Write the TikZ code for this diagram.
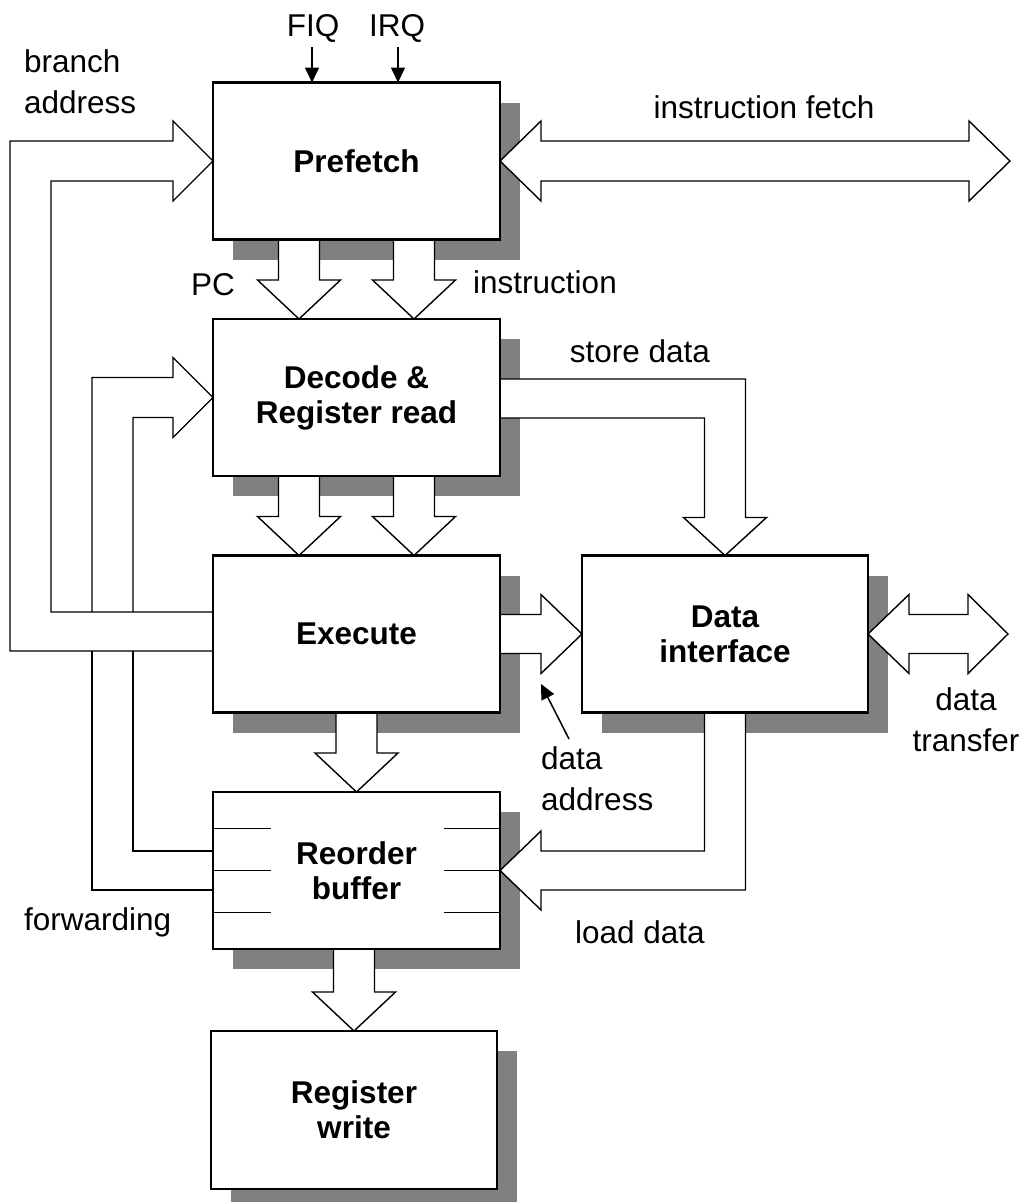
\documentclass[tikz,border=0pt]{standalone}
\usepackage{fontspec}
\setmainfont{Liberation Sans}
\usetikzlibrary{calc,arrows.meta}
\pgfdeclarelayer{shad}
\pgfdeclarelayer{arr}
\pgfsetlayers{shad,arr,main}
\definecolor{shadowgray}{RGB}{128,128,128}
\newcommand\fatdown[2]{\draw[fat] ($(#1)+(-20.5,0)$) -- ($(#2)+(-20.5,-39)$) -- ($(#2)+(-41.5,-39)$) -- (#2) -- ($(#2)+(41.5,-39)$) -- ($(#2)+(20.5,-39)$) -- ($(#1)+(20.5,0)$);}
\tikzset{
 blk/.style={draw, line width=2.6pt, fill=white, minimum width=287pt, minimum height=157pt,
   inner sep=0pt, outer sep=0pt, align=center, font=\fontsize{31.5}{35}\selectfont\bfseries},
 fat/.style={draw, line width=1.4pt, fill=white, line join=miter},
 fline/.style={draw, line width=1.4pt},
 lbl/.style={inner sep=0pt, font=\fontsize{31.5}{41}\selectfont},
 sarrow/.style={line width=1.5pt, -{Triangle[length=15pt,width=14pt]}},
 tickline/.style={line width=1.4pt},
}
\begin{document}
\begin{tikzpicture}[x=1pt,y=-1pt]
\useasboundingbox (0,0) rectangle (1021,1202);
% boxes
\node[blk] (pf) at (356.5,161) {Prefetch};
\node[blk] (dec) at (356.5,397.5) {Decode \&\\Register read};
\node[blk] (exe) at (356.5,634) {Execute};
\node[blk, minimum width=286pt] (di) at (725,634) {Data\\interface};
\node[blk] (rob) at (356.5,870.5) {Reorder\\buffer};
\node[blk, minimum width=286pt, minimum height=158pt] (rw) at (354,1110) {Register\\write};
% reorder ticks
\foreach \d in {-42,0,42} {
  \draw[tickline] ($(rob.west)+(0,\d)$) -- ++(58,0);
  \draw[tickline] ($(rob.east)+(0,\d)$) -- ++(-56,0);
}
% shadows
\begin{pgfonlayer}{shad}
\foreach \n in {pf,dec,exe,di,rob,rw}
  \fill[shadowgray] ($(\n.south west)+(20,20)$) rectangle ($(\n.north east)+(20,20)$);
\end{pgfonlayer}
% fat arrows
\begin{pgfonlayer}{arr}
\coordinate (pcS) at ($(pf.south)+(-57.5,0)$);
\coordinate (pcE) at ($(dec.north)+(-57.5,0)$);
\coordinate (inS) at ($(pf.south)+(57.5,0)$);
\coordinate (inE) at ($(dec.north)+(57.5,0)$);
\coordinate (d1S) at ($(dec.south)+(-57.5,0)$);
\coordinate (d1E) at ($(exe.north)+(-57.5,0)$);
\coordinate (d2S) at ($(dec.south)+(57.5,0)$);
\coordinate (d2E) at ($(exe.north)+(57.5,0)$);
\coordinate (rwS) at (rw.north |- rob.south);
\fatdown{pcS}{pcE}
\fatdown{inS}{inE}
\fatdown{d1S}{d1E}
\fatdown{d2S}{d2E}
\fatdown{exe.south}{rob.north}
\fatdown{rwS}{rw.north}
% decode feedback
\draw[fat] ($(exe.west)+(-121,-22)$) |- ($(dec.west)+(-40,-20)$) -- ($(dec.west)+(-40,-40)$) -- (dec.west)
  -- ($(dec.west)+(-40,40)$) -- ($(dec.west)+(-40,20)$) -| ($(exe.west)+(-80,-22)$);
% branch address
\draw[fat] ($(exe.west)+(0,17)$) -| ($(pf.west)+(-203,-20)$) -- ($(pf.west)+(-40,-20)$) -- ($(pf.west)+(-40,-40)$)
  -- (pf.west) -- ($(pf.west)+(-40,40)$) -- ($(pf.west)+(-40,20)$) -| ($(exe.west)+(-162,-22)$) -- ($(exe.west)+(0,-22)$);
% forwarding
\draw[fline] ($(exe.west)+(-121,17)$) |- ($(rob.west)+(0,19.5)$);
\draw[fline] ($(exe.west)+(-80,17)$) |- ($(rob.west)+(0,-19.5)$);
% store data
\draw[fat] ($(dec.east)+(0,-18.5)$) -| ($(di.north)+(20.5,-38)$) -- ($(di.north)+(41.5,-38)$) -- (di.north)
  -- ($(di.north)+(-41.5,-38)$) -- ($(di.north)+(-20.5,-38)$) |- ($(dec.east)+(0,20.5)$);
% execute -> data interface
\draw[fat] ($(exe.east)+(0,-19.5)$) -- ($(di.west)+(-41,-19.5)$) -- ($(di.west)+(-41,-39.5)$) -- (di.west)
  -- ($(di.west)+(-41,39.5)$) -- ($(di.west)+(-41,19.5)$) -- ($(exe.east)+(0,19.5)$);
% instruction fetch
\coordinate (ifR) at (1010,161);
\draw[fat] (pf.east) -- ($(pf.east)+(41,-40)$) -- ($(pf.east)+(41,-20)$) -- ($(ifR)+(-41,-20)$) -- ($(ifR)+(-41,-40)$)
  -- (ifR) -- ($(ifR)+(-41,40)$) -- ($(ifR)+(-41,20)$) -- ($(pf.east)+(41,20)$) -- ($(pf.east)+(41,40)$) -- cycle;
% data transfer
\coordinate (dtR) at (1008,634);
\draw[fat] (di.east) -- ($(di.east)+(41,-39.5)$) -- ($(di.east)+(41,-19.5)$) -- ($(dtR)+(-40,-19.5)$) -- ($(dtR)+(-40,-39.5)$)
  -- (dtR) -- ($(dtR)+(-40,39.5)$) -- ($(dtR)+(-40,19.5)$) -- ($(di.east)+(41,19.5)$) -- ($(di.east)+(41,39.5)$) -- cycle;
% load data
\draw[fat] ($(di.south)+(-20.5,0)$) |- ($(rob.east)+(41,-19.5)$) -- ($(rob.east)+(41,-39.5)$) -- (rob.east)
  -- ($(rob.east)+(41,39.5)$) -- ($(rob.east)+(41,19.5)$) -| ($(di.south)+(20.5,0)$);
\end{pgfonlayer}
% labels
\node[lbl, anchor=base] (fiq) at (313,36) {FIQ};
\node[lbl, anchor=base] (irq) at (397,36) {IRQ};
\coordinate (fiqS) at (312,47);
\coordinate (irqS) at (398,47);
\draw[sarrow] (fiqS) -- (fiqS |- pf.north);
\draw[sarrow] (irqS) -- (irqS |- pf.north);
\node[lbl, anchor=base west, align=left] (ba) at (24,113) {branch\\address};
\node[lbl, anchor=base] (ift) at (764,118) {instruction fetch};
\node[lbl, anchor=base] (pc) at (213,295) {PC};
\node[lbl, anchor=base] (ins) at (545,293) {instruction};
\node[lbl, anchor=base] (sd) at (640,362) {store data};
\node[lbl, anchor=base west, align=left] (dal) at (541,810) {data\\address};
\coordinate (daS) at (569,739);
\coordinate (daE) at (541,684);
\draw[sarrow] (daS) -- (daE);
\node[lbl, anchor=base] (ld) at (640,943) {load data};
\node[lbl, anchor=base west] (fw) at (24,930) {forwarding};
\node[lbl, anchor=base, align=center] (dt) at (966,751) {data\\transfer};
\end{tikzpicture}
\end{document}
